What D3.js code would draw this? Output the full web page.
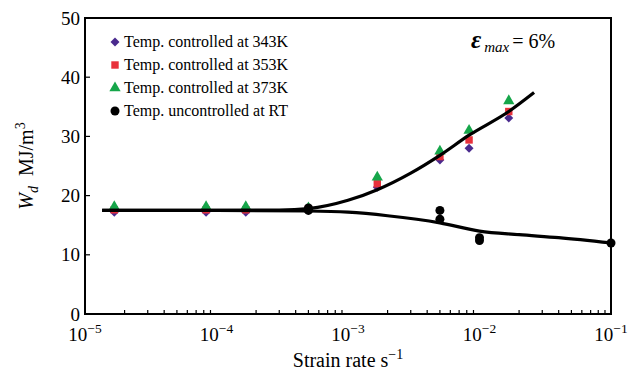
<!DOCTYPE html>
<html><head><meta charset="utf-8">
<script src="https://cdn.jsdelivr.net/npm/d3@7"></script>
<style>body{margin:0;background:#fff}text{font-family:"Liberation Serif","Times New Roman",serif;fill:#000}</style>
</head><body><svg id="c" width="644" height="373"></svg>
<script>
// ---- data ----
const rates = [1.67e-5, 8.33e-5, 1.67e-4, 5e-4, 1.67e-3, 5e-3, 8.33e-3, 1.67e-2];
const w343 = [17.2, 17.2, 17.2, 17.5, 21.4, 26.0, 28.0, 33.1];
const w353 = [17.6, 17.6, 17.6, 17.7, 22.0, 26.6, 29.4, 34.2];
const w373 = [18.1, 18.1, 18.1, 17.9, 23.1, 27.5, 31.0, 36.0];
const rtRates = [5e-4, 5e-4, 5e-3, 5e-3, 1e-2, 1e-2, 1e-1];
const wRT = [17.9, 17.5, 17.5, 16.0, 12.9, 12.4, 12.0];
const upperFitRates = [1.35e-5, 1e-4, 3e-4, 5e-4, 1e-3, 1.67e-3, 3e-3, 5e-3, 8.33e-3, 1.67e-2, 2.6e-2];
const upperFitW = [17.5, 17.5, 17.55, 17.8, 19.2, 21.0, 23.8, 26.8, 30.2, 34.2, 37.4];
const lowerFitRates = [1.35e-5, 1e-4, 5e-4, 1e-3, 2e-3, 5e-3, 1e-2, 2e-2, 4e-2, 1e-1];
const lowerFitW = [17.5, 17.5, 17.4, 17.2, 16.6, 15.4, 14.0, 13.4, 12.9, 12.0];
const xTickExps = [-5, -4, -3, -2, -1];
const yTicks = [0, 10, 20, 30, 40, 50];
const legendLabels = ["Temp. controlled at 343K", "Temp. controlled at 353K", "Temp. controlled at 373K", "Temp. uncontrolled at RT"];
const colors = ["#4a2a8e", "#e8313b", "#16a64a", "#000000"];

const svg = d3.select("#c");
const L = 85, R = 611, T = 18, B = 314;
const x = d3.scaleLog().domain([1e-5, 1e-1]).range([L, R]);
const y = d3.scaleLinear().domain([0, 50]).range([B, T]);

// frame
svg.append("rect").attr("x", L).attr("y", T).attr("width", R - L).attr("height", B - T)
  .attr("fill", "none").attr("stroke", "#000").attr("stroke-width", 2);

// x ticks
const minor = [];
for (let e = -5; e < -1; e++) for (let m = 2; m <= 9; m++) minor.push(m * Math.pow(10, e));
svg.append("g").selectAll("line").data(minor).join("line")
  .attr("x1", d => x(d)).attr("x2", d => x(d)).attr("y1", B).attr("y2", B - 4)
  .attr("stroke", "#000").attr("stroke-width", 1.2);
const xl = svg.append("g").selectAll("text").data(xTickExps).join("text")
  .attr("x", d => x(Math.pow(10, d))).attr("y", 341).attr("text-anchor", "middle")
  .attr("font-size", 19);
xl.append("tspan").text("10");
xl.append("tspan").attr("dy", -8).attr("font-size", 13.5).text(d => "\u2212" + Math.abs(d));

// y ticks
svg.append("g").selectAll("line").data(yTicks).join("line")
  .attr("x1", L).attr("x2", L + 5).attr("y1", d => y(d)).attr("y2", d => y(d))
  .attr("stroke", "#000").attr("stroke-width", 1.2);
svg.append("g").selectAll("text").data(yTicks).join("text")
  .attr("x", 80).attr("y", d => y(d) + 6.5).attr("text-anchor", "end").attr("font-size", 19)
  .text(d => d);

// axis titles
const xt = svg.append("text").attr("x", 348).attr("y", 367).attr("text-anchor", "middle").attr("font-size", 20);
xt.append("tspan").text("Strain rate s");
xt.append("tspan").attr("dy", -8).attr("font-size", 14).text("\u22121");
const yt = svg.append("text").attr("transform", "translate(33,166) rotate(-90)").attr("text-anchor", "middle").attr("font-size", 20);
yt.append("tspan").attr("font-style", "italic").text("W");
yt.append("tspan").attr("font-style", "italic").attr("font-size", 14).attr("dy", 5).text("d");
yt.append("tspan").attr("dy", -5).attr("dx", 10).text("MJ/m");
yt.append("tspan").attr("dy", -8).attr("font-size", 14).text("3");

// markers
const diamond = { draw(ctx, size) { const r = Math.sqrt(size / 2); ctx.moveTo(0, -r); ctx.lineTo(r, 0); ctx.lineTo(0, r); ctx.lineTo(-r, 0); ctx.closePath(); } };
const sym = [diamond, d3.symbolSquare, d3.symbolTriangle];
const sizes = [40, 55, 55];
[w343, w353, w373].forEach((arr, i) => {
  svg.append("g").selectAll("path").data(arr).join("path")
    .attr("transform", (d, j) => `translate(${x(rates[j])},${y(d)})`)
    .attr("d", d3.symbol(sym[i], sizes[i])).attr("fill", colors[i]);
});

// fit curves
const line = d3.line().curve(d3.curveMonotoneX);
svg.append("path").attr("d", line(upperFitRates.map((r, i) => [x(r), y(upperFitW[i])])))
  .attr("fill", "none").attr("stroke", "#000").attr("stroke-width", 3.2);
svg.append("path").attr("d", line(lowerFitRates.map((r, i) => [x(r), y(lowerFitW[i])])))
  .attr("fill", "none").attr("stroke", "#000").attr("stroke-width", 3.2);

svg.append("g").selectAll("circle").data(wRT).join("circle")
  .attr("cx", (d, j) => x(rtRates[j])).attr("cy", d => y(d)).attr("r", 4.5).attr("fill", "#000");

// legend
const lg = svg.append("g");
legendLabels.forEach((t, i) => {
  const yy = 42 + i * 23;
  if (i < 3) lg.append("path").attr("transform", `translate(115,${yy})`).attr("d", d3.symbol(sym[i], sizes[i])).attr("fill", colors[i]);
  else lg.append("circle").attr("cx", 115).attr("cy", yy).attr("r", 4.5).attr("fill", "#000");
  lg.append("text").attr("x", 124).attr("y", yy + 5).attr("font-size", 16).text(t);
});

// annotation
const an = svg.append("text").attr("x", 471).attr("y", 48).attr("font-size", 20);
an.append("tspan").attr("font-style", "italic").attr("font-weight", "bold").attr("font-size", 25).text("\u03b5");
an.append("tspan").attr("font-style", "italic").attr("font-size", 15).attr("dy", 4).attr("dx", 3).text("max");
an.append("tspan").attr("dy", -4).attr("dx", 3).text("= 6%");
</script></body></html>
